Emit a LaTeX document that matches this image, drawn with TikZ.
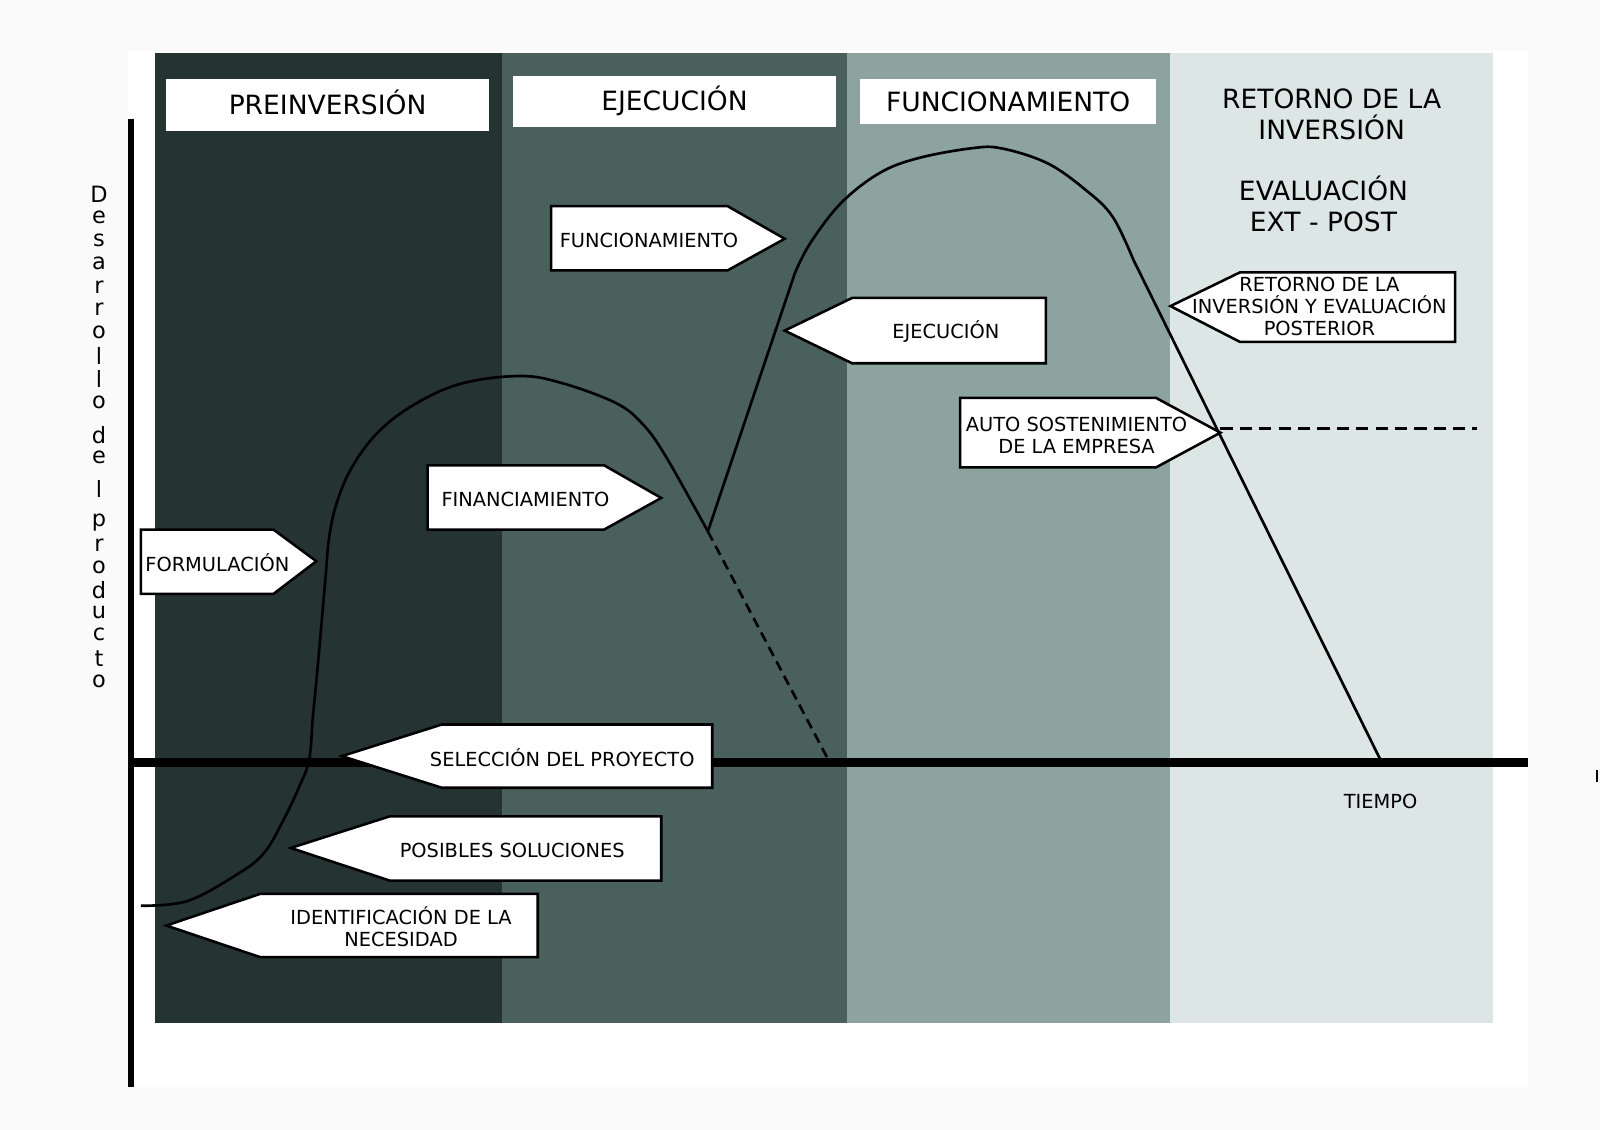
\documentclass[tikz,border=0pt]{standalone}
\usepackage{fontspec}
\setmainfont{DejaVu Sans}

\definecolor{fondo}{HTML}{FAFAFA}
\definecolor{fase1}{HTML}{253333}
\definecolor{fase2}{HTML}{4A605D}
\definecolor{fase3}{HTML}{8CA3A0}
\definecolor{fase4}{HTML}{DCE6E4}

\tikzset{
  cabecera/.style={fill=white, inner sep=0pt, text height=19pt, text depth=0pt, font=\fontsize{26}{30}\selectfont},
  titulo/.style={inner sep=0pt, align=center, font=\fontsize{26}{30}\selectfont},
  etiqueta/.style={draw=black, fill=white, line width=2.5pt, line join=miter},
  texto/.style={inner sep=0pt, align=center, font=\fontsize{19}{22}\selectfont},
  curva/.style={line width=2.6pt, line join=round},
}

\begin{document}
\begin{tikzpicture}[x=1pt, y=-1pt]
\useasboundingbox (0,0) rectangle (1568,1107);
\fill[fondo] (0,0) rectangle (1568,1107);
\fill[white] (125,50) rectangle (1497,1065);

% Phases
\fill[fase1] (152,52) rectangle (492,1003);
\fill[fase2] (492,52) rectangle (830,1003);
\fill[fase3] (830,52) rectangle (1147,1003);
\fill[fase4] (1147,52) rectangle (1463,1003);

\node (preinv) [cabecera, minimum width=316pt, minimum height=51pt] at (321,102.5) {PREINVERSIÓN};
\node (ejec) [cabecera, minimum width=316pt, minimum height=50pt] at (661,99) {EJECUCIÓN};
\node (func) [cabecera, minimum width=290pt, minimum height=45pt] at (988,99.5) {FUNCIONAMIENTO};
\node (retorno) [titulo] at (1305,112) {RETORNO DE LA\\INVERSIÓN};
\node (evaluacion) [titulo] at (1297,200) {EVALUACIÓN\\EXT - POST};

% Axes
\draw[line width=6pt] (128,117) -- (128,1065);
\draw[line width=8.5pt] (125,747) -- (1497,747);
\draw[line width=1.5pt] (1565,755) -- (1565,766);
\node (tiempo) [texto] at (1353,785) {TIEMPO};

\foreach \letra/\y [count=\i] in {D/190,e/213,s/236,a/258,r/281,r/303,o/326,l/349,l/371,o/394,d/426,e/448,l/479,p/512,r/534,o/556,d/578,u/600,c/622,t/645,o/668}
  \node (letra\i) [inner sep=0pt, font=\fontsize{22}{24}\selectfont] at (97,\y) {\letra};

% Curves
\coordinate (inicio) at (138,887.6);
\coordinate (valle) at (693.7,520.8);
\coordinate (cero1) at (812,745);
\coordinate (sube) at (778.9,267.9);
\coordinate (baja) at (1110.8,254.8);
\coordinate (cero2) at (1353,745);
\draw[curva] plot[smooth, tension=0.6] coordinates {(inicio) (183.6,883) (232.5,856.8) (258.7,836) (277.4,804.3) (292.4,772.8) (302.9,744.8) (306.6,702.7) (311,657) (318.7,569.8) (322.4,527.8) (330,492.8) (345,457.7) (371.2,422.8) (408.7,394.8) (453.7,375.5) (510,368.5) (551,375.5) (603.7,395) (630,415.8) (652.5,447.3) (valle)};
\draw[curva, dash pattern=on 10pt off 6pt] (valle) -- (cero1);
\draw[curva] (valle) -- (sube);
\draw[curva] plot[smooth, tension=0.6] coordinates {(sube) (793.9,238.5) (823.9,199.3) (861.4,169.9) (899,155.2) (951.4,145.4) (981.5,145.4) (1026.5,160) (1064,186.2) (1090.3,212.3) (baja)};
\draw[curva] (baja) -- (cero2);
\coordinate (umbral) at (1196,420);
\coordinate (umbralfin) at (1447,420);
\draw[curva, dash pattern=on 12pt off 7pt] (umbral) -- (umbralfin);

% Labels
\draw[etiqueta] (138,519) -- (268,519) -- (310,550) -- (268,582) -- (138,582) -- cycle;
\node (formulacion) [texto] at (213,551) {FORMULACIÓN};
\draw[etiqueta] (419,456) -- (592,456) -- (648,488) -- (592,519) -- (419,519) -- cycle;
\node (financiamiento) [texto] at (515,489) {FINANCIAMIENTO};
\draw[etiqueta] (540,202) -- (713,202) -- (769,234) -- (713,265) -- (540,265) -- cycle;
\node (funcionamiento) [texto] at (636,236) {FUNCIONAMIENTO};
\draw[etiqueta] (769,324) -- (835,292) -- (1025,292) -- (1025,356) -- (835,356) -- cycle;
\node (ejecucion) [texto] at (927,325) {EJECUCIÓN};
\draw[etiqueta] (1147,300) -- (1215,267) -- (1426,267) -- (1426,335) -- (1215,335) -- cycle;
\node (evalposterior) [texto, font=\fontsize{19}{21.5}\selectfont] at (1293,300.5) {RETORNO DE LA\\INVERSIÓN Y EVALUACIÓN\\POSTERIOR};
\draw[etiqueta] (941,390) -- (1133,390) -- (1196,424) -- (1133,458) -- (941,458) -- cycle;
\node (autosost) [texto] at (1055,427) {AUTO SOSTENIMIENTO\\DE LA EMPRESA};
\draw[etiqueta] (335,741) -- (433,710) -- (698,710) -- (698,772) -- (433,772) -- cycle;
\node (seleccion) [texto] at (551,742) {SELECCIÓN DEL PROYECTO};
\draw[etiqueta] (285,831) -- (382,800) -- (648,800) -- (648,863) -- (382,863) -- cycle;
\node (soluciones) [texto] at (502,833) {POSIBLES SOLUCIONES};
\draw[etiqueta] (163,907) -- (255,876) -- (527,876) -- (527,938) -- (255,938) -- cycle;
\node (necesidad) [texto] at (393,908) {IDENTIFICACIÓN DE LA\\NECESIDAD};
\end{tikzpicture}
\end{document}
